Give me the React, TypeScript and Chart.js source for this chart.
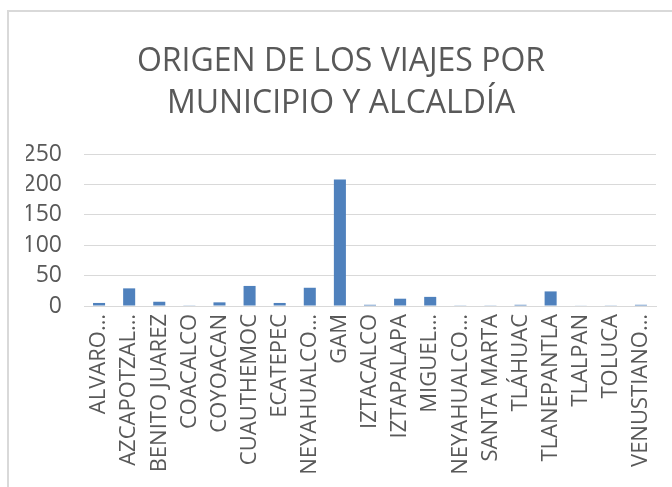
import React, { useEffect, useRef } from "react";
import { Chart, registerables } from "chart.js";

Chart.register(...registerables);

const titleLines = ["ORIGEN DE LOS VIAJES POR", "MUNICIPIO Y ALCALDÍA"];

const categories = [
  "ALVARO…",
  "AZCAPOTZAL…",
  "BENITO JUAREZ",
  "COACALCO",
  "COYOACAN",
  "CUAUTHEMOC",
  "ECATEPEC",
  "NEYAHUALCO…",
  "GAM",
  "IZTACALCO",
  "IZTAPALAPA",
  "MIGUEL…",
  "NEYAHUALCO…",
  "SANTA MARTA",
  "TLÁHUAC",
  "TLANEPANTLA",
  "TLALPAN",
  "TOLUCA",
  "VENUSTIANO…",
];

const viajes = [5, 29, 7, 0.5, 6, 33, 5, 30, 208, 2, 12, 15, 0.5, 0.5, 2, 24, 1, 0.5, 2];

const yMin = 0;
const yMax = 250;
const yStep = 50;

export default function App() {
  const ref = useRef<HTMLCanvasElement>(null);

  useEffect(() => {
    const chart = new Chart(ref.current!, {
      type: "bar",
      data: {
        labels: categories,
        datasets: [
          {
            label: "Viajes",
            data: viajes,
            backgroundColor: "#4F81BD",
            barPercentage: 0.4,
            categoryPercentage: 1,
          },
        ],
      },
      options: {
        responsive: false,
        animation: false,
        layout: { padding: { top: 10, left: 17, right: 53, bottom: 0 } },
        plugins: {
          legend: { display: false },
          tooltip: { enabled: false },
          title: {
            display: true,
            text: titleLines,
            color: "#595959",
            font: { family: "'Open Sans'", size: 32, weight: "normal", lineHeight: 42 / 32 },
            padding: { top: 19, bottom: 29 },
          },
        },
        scales: {
          x: {
            grid: { display: false },
            border: { display: true, color: "#d9d9d9", width: 1 },
            ticks: {
              color: "#595959",
              font: { family: "'Open Sans'", size: 22 },
              maxRotation: 90,
              minRotation: 90,
              autoSkip: false,
              padding: 0,
            },
            afterFit: (s: any) => {
              s.height = 206;
            },
          },
          y: {
            min: yMin,
            max: yMax,
            ticks: {
              stepSize: yStep,
              autoSkip: false,
              color: "#595959",
              font: { family: "'Open Sans'", size: 23 },
              padding: 22,
            },
            grid: { color: "#d9d9d9", lineWidth: 1, drawTicks: false },
            border: { display: false },
            afterFit: (s: any) => {
              s.width = 58;
            },
          },
        },
      },
    });
    return () => chart.destroy();
  }, []);

  return (
    <div style={{ position: "fixed", inset: 0, overflow: "hidden", background: "#fff" }}>
      <div
        style={{
          position: "absolute",
          left: 7,
          top: 10,
          width: 720,
          height: 520,
          borderLeft: "2px solid #d9d9d9",
          borderTop: "2px solid #d9d9d9",
          boxSizing: "border-box",
        }}
      >
        <canvas
          ref={ref}
          width={700}
          height={500}
          style={{ position: "absolute", left: 0, top: 0, width: 700, height: 500 }}
        />
      </div>
    </div>
  );
}
